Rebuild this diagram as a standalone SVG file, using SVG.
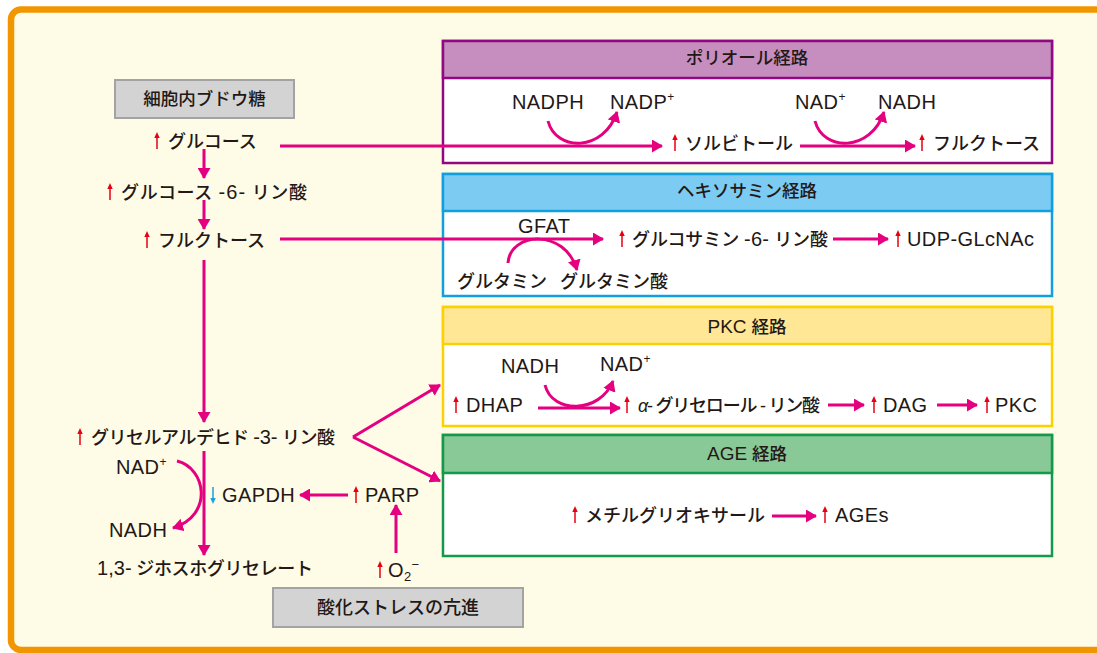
<svg xmlns="http://www.w3.org/2000/svg" xmlns:xlink="http://www.w3.org/1999/xlink" width="1097" height="653" viewBox="0 0 1097 653">
<style>
text{font-family:"Liberation Sans","Noto Sans CJK JP",sans-serif;fill:#231815;font-size:18px;font-weight:500}
.lat{font-size:20px;letter-spacing:0.4px}
.hd{font-size:17.5px;text-anchor:middle}
.gray{fill:#D3D3D3;stroke:#A3A3A3;stroke-width:2}
.con{fill:none;stroke:#E4007F;stroke-width:3;marker-end:url(#ah)}
</style>
<defs>
<marker id="ah" markerUnits="userSpaceOnUse" viewBox="0 0 11 13" refX="10" refY="6.5" markerWidth="11" markerHeight="13" orient="auto">
<path d="M0,0 L11,6.5 L0,13 Z" fill="#E4007F"/>
</marker>
<g id="up"><line x1="0" y1="-5" x2="0" y2="8" stroke="#E60012" stroke-width="1.5"/><path d="M0,-9 L-2.7,-3 L2.7,-3 Z" fill="#E60012"/></g>
<g id="down"><line x1="0" y1="-8" x2="0" y2="5" stroke="#1AA0E0" stroke-width="1.5"/><path d="M0,9 L-2.7,3 L2.7,3 Z" fill="#1AA0E0"/></g>
</defs>
<rect x="0" y="0" width="1097" height="653" fill="#FFFFFF"/>
<rect id="frame" x="11" y="9.5" width="1100" height="640.5" rx="10" fill="#FEFBE6" stroke="#F29600" stroke-width="6.5"/>

<g id="polyol">
<rect x="443" y="41" width="609" height="122" fill="#FFFFFF" stroke="#920783" stroke-width="2.5"/>
<rect x="443" y="41" width="609" height="37" fill="#C58EBE" stroke="#920783" stroke-width="2.5"/>
<text class="hd" x="747" y="64">ポリオール経路</text>
</g>
<g id="hexosamine">
<rect x="443" y="174" width="609" height="122" fill="#FFFFFF" stroke="#10A0E0" stroke-width="2.5"/>
<rect x="443" y="174" width="609" height="37" fill="#7CCBF3" stroke="#10A0E0" stroke-width="2.5"/>
<text class="hd" x="747" y="197">ヘキソサミン経路</text>
</g>
<g id="pkc">
<rect x="443" y="307" width="609" height="119" fill="#FFFFFF" stroke="#FDD000" stroke-width="2.5"/>
<rect x="443" y="307" width="609" height="37" fill="#FFE796" stroke="#FDD000" stroke-width="2.5"/>
<text class="hd" x="747" y="333"><tspan font-size="19">PKC</tspan> 経路</text>
</g>
<g id="age">
<rect x="443" y="435" width="609" height="121" fill="#FFFFFF" stroke="#13994A" stroke-width="2.5"/>
<rect x="443" y="435" width="609" height="38" fill="#89C897" stroke="#13994A" stroke-width="2.5"/>
<text class="hd" x="747" y="460"><tspan font-size="19">AGE</tspan> 経路</text>
</g>

<g id="glucose-box"><rect class="gray" x="115" y="80" width="179" height="38"/><text class="hd" x="204.5" y="105">細胞内ブドウ糖</text></g>
<g id="oxstress-box"><rect class="gray" x="273" y="588" width="250" height="39"/><text class="hd" x="398" y="614" style="font-size:18px">酸化ストレスの亢進</text></g>

<g id="connectors">
<path class="con" d="M204,149 L204,178"/>
<path class="con" d="M204,200 L204,229"/>
<path class="con" d="M204,260 L204,422"/>
<path class="con" d="M204,451 L204,555"/>
<path class="con" d="M280,146 L662,146"/>
<path class="con" d="M280,239 L603,239"/>
<path class="con" d="M353,437 L440,385"/>
<path class="con" d="M353,437 L440,481"/>
<path class="con" d="M348,495 L300,495"/>
<path class="con" d="M396,553 L396,505"/>
<path class="con" d="M177,461 C206,468 214,515 173,528"/>
<path class="con" d="M548,121 C556,152 604,152 617,112"/>
<path class="con" d="M800,146 L915,146"/>
<path class="con" d="M815,121 C823,152 871,152 884,112"/>
<path class="con" d="M508,263 C510,232 565,228 577,270"/>
<path class="con" d="M833,239 L888,239"/>
<path class="con" d="M538,408 L620,408"/>
<path class="con" d="M545,385 C552,414 600,414 613,381"/>
<path class="con" d="M828,405 L864,405"/>
<path class="con" d="M937,405 L977,405"/>
<path class="con" d="M772,516 L816,516"/>
</g>

<g id="n-glucose"><use href="#up" x="157" y="141"/><text x="168" y="147.5">グルコース</text></g>
<g id="n-g6p"><use href="#up" x="110" y="192"/><text x="121" y="198.5" textLength="186" lengthAdjust="spacing">グルコース <tspan class="lat">-6-</tspan> リン酸</text></g>
<g id="n-fructose"><use href="#up" x="147" y="240"/><text x="158" y="246.5">フルクトース</text></g>
<g id="n-g3p"><use href="#up" x="80" y="437"/><text x="91" y="443.5" textLength="244" lengthAdjust="spacing">グリセルアルデヒド <tspan class="lat">-3-</tspan> リン酸</text></g>
<g id="n-nadplus-l"><text class="lat" x="116" y="474">NAD<tspan font-size="12" dy="-8">+</tspan></text></g>
<g id="n-nadh-l"><text class="lat" x="109" y="537">NADH</text></g>
<g id="n-gapdh"><use href="#down" x="213" y="495"/><text class="lat" x="222" y="502">GAPDH</text></g>
<g id="n-parp"><use href="#up" x="356" y="495"/><text class="lat" x="365" y="502">PARP</text></g>
<g id="n-bpg"><text x="97" y="574.5" textLength="216" lengthAdjust="spacing"><tspan class="lat">1,3-</tspan> ジホスホグリセレート</text></g>
<g id="n-o2"><use href="#up" x="380" y="570"/><text class="lat" x="388" y="577">O<tspan font-size="13" dy="4">2</tspan><tspan font-size="13" dy="-12">−</tspan></text></g>

<g id="n-nadph"><text class="lat" x="512" y="109">NADPH</text></g>
<g id="n-nadp"><text class="lat" x="610" y="109">NADP<tspan font-size="12" dy="-8">+</tspan></text></g>
<g id="n-sorbitol"><use href="#up" x="675" y="143"/><text x="685" y="149.5">ソルビトール</text></g>
<g id="n-nadplus-p"><text class="lat" x="795" y="109">NAD<tspan font-size="12" dy="-8">+</tspan></text></g>
<g id="n-nadh-p"><text class="lat" x="878" y="109">NADH</text></g>
<g id="n-fructose-p"><use href="#up" x="922" y="143"/><text x="933" y="149.5">フルクトース</text></g>

<g id="n-gfat"><text class="lat" x="518" y="233">GFAT</text></g>
<g id="n-gln6p"><use href="#up" x="622" y="239"/><text x="632" y="245.5" textLength="196" lengthAdjust="spacing">グルコサミン <tspan class="lat">-6-</tspan> リン酸</text></g>
<g id="n-udp"><use href="#up" x="898" y="239"/><text class="lat" x="907" y="246">UDP-GLcNAc</text></g>
<g id="n-gln"><text x="457" y="287.5">グルタミン</text></g>
<g id="n-glu"><text x="560" y="287.5">グルタミン酸</text></g>

<g id="n-nadh-k"><text class="lat" x="501" y="373">NADH</text></g>
<g id="n-nadplus-k"><text class="lat" x="600" y="371">NAD<tspan font-size="12" dy="-8">+</tspan></text></g>
<g id="n-dhap"><use href="#up" x="456" y="405"/><text class="lat" x="466" y="412">DHAP</text></g>
<g id="n-agp"><use href="#up" x="627" y="405"/><text x="638" y="411.5" textLength="182" lengthAdjust="spacing"><tspan font-style="italic">α</tspan>- グリセロール - リン酸</text></g>
<g id="n-dag"><use href="#up" x="874" y="405"/><text class="lat" x="883" y="412">DAG</text></g>
<g id="n-pkc"><use href="#up" x="987" y="405"/><text class="lat" x="995" y="412">PKC</text></g>

<g id="n-mg"><use href="#up" x="575" y="515"/><text x="585" y="521.5">メチルグリオキサール</text></g>
<g id="n-ages"><use href="#up" x="825" y="515"/><text class="lat" x="835" y="522">AGEs</text></g>
</svg>
